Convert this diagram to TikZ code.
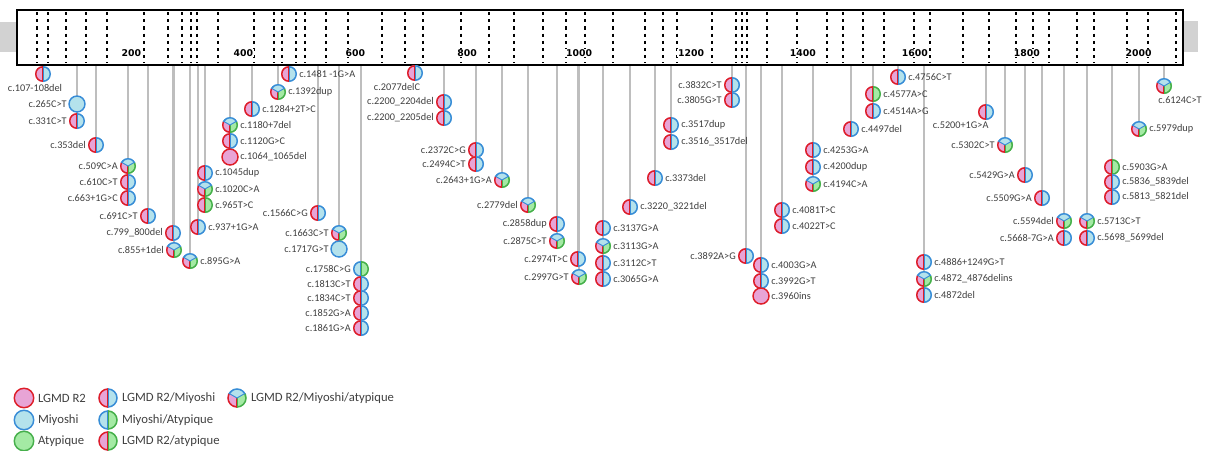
\documentclass[tikz,border=0pt]{standalone}
\usepackage{fontspec}
\setmainfont{Carlito}
\newfontfamily\rulerfont{DejaVu Sans}
\usetikzlibrary{backgrounds}

\newcommand\ppb{path picture bounding box}

\begin{document}
\begin{tikzpicture}[x=0.75pt, y=-0.75pt,
	mr/.store in=\mr, mr=6pt,
	var/.style={circle, minimum size=2*\mr, inner sep=0pt, outer sep=0pt},
	r2/.style={var, fill=r2fill, draw=r2line, line width=1.1pt},
	miy/.style={var, fill=miyfill, draw=miyline, line width=1.1pt},
	aty/.style={var, fill=atyfill, draw=atyline, line width=1.1pt},
	halves/.style 2 args={var, path picture={
		\fill[#1fill] (\ppb.south) rectangle (\ppb.north west);
		\fill[#2fill] (\ppb.south) rectangle (\ppb.north east);
		\draw[#1line, line width=2.2pt] (\ppb.south) arc[start angle=-90, end angle=-270, radius=\mr];
		\draw[#2line, line width=2.2pt] (\ppb.south) arc[start angle=-90, end angle=90, radius=\mr];
		\draw[#1line, line width=.6pt] ([xshift=-.3pt]\ppb.north) -- ([xshift=-.3pt]\ppb.south);
		\draw[#2line, line width=.6pt] ([xshift=.3pt]\ppb.north) -- ([xshift=.3pt]\ppb.south);
	}},
	r2miy/.style={halves={r2}{miy}},
	miyaty/.style={halves={miy}{aty}},
	r2aty/.style={halves={r2}{aty}},
	all3/.style={var, path picture={
		\coordinate (m) at (\ppb.center);
		\fill[r2fill] (m) -- ([shift={(150:2*\mr)}]m) -- ([shift={(210:2*\mr)}]m) -- ([shift={(270:2*\mr)}]m) -- cycle;
		\fill[atyfill] (m) -- ([shift={(270:2*\mr)}]m) -- ([shift={(330:2*\mr)}]m) -- ([shift={(30:2*\mr)}]m) -- cycle;
		\fill[miyfill] (m) -- ([shift={(30:2*\mr)}]m) -- ([shift={(90:2*\mr)}]m) -- ([shift={(150:2*\mr)}]m) -- cycle;
		\draw[r2line, line width=2.2pt] ([shift={(150:\mr)}]m) arc[start angle=150, end angle=270, radius=\mr];
		\draw[atyline, line width=2.2pt] ([shift={(270:\mr)}]m) arc[start angle=270, end angle=390, radius=\mr];
		\draw[miyline, line width=2.2pt] ([shift={(30:\mr)}]m) arc[start angle=30, end angle=150, radius=\mr];
		\draw[r2line, line width=.6pt] ([xshift=-.3pt]m) -- ([xshift=-.3pt]\ppb.south);
		\draw[atyline, line width=.6pt] ([xshift=.3pt]m) -- ([xshift=.3pt]\ppb.south);
		\draw[miyline, line width=.7pt] ([shift={(150:\mr)}]m) -- (m) -- ([shift={(30:\mr)}]m);
	}},
	every label/.append style={font=\fontsize{7.7}{9}\selectfont, text=labgray, inner sep=1pt},
	label distance=.5pt,
	ruler/.style={draw, line width=2pt, fill=white, minimum width=874.5pt, minimum height=41.25pt, inner sep=0pt},
	exon/.style={dash pattern=on 2.4pt off 3pt, line width=.9pt},
	ticklab/.style={font=\rulerfont\bfseries\fontsize{7}{8}\selectfont, fill=white, inner sep=.6pt},
	stem/.style={draw=stemgray, line width=1.1pt}
	]
	% Colours of the phenotypes
	\definecolor{r2fill}{RGB}{232,164,214}
	\definecolor{r2line}{RGB}{222,30,40}
	\definecolor{miyfill}{RGB}{180,226,236}
	\definecolor{miyline}{RGB}{56,140,215}
	\definecolor{atyfill}{RGB}{164,234,164}
	\definecolor{atyline}{RGB}{70,175,75}
	\definecolor{labgray}{RGB}{64,64,64}
	\definecolor{stemgray}{RGB}{190,190,190}
	\definecolor{sidegray}{RGB}{210,210,210}

	\useasboundingbox (0,0) rectangle (1206,450);

	% Protein bar
	\fill[sidegray] (0,22) rectangle (17,52);
	\fill[sidegray] (1183,21) rectangle (1198,52);
	\node[ruler] (prot) at (600,37.5) {};

	% Exon limits
	\foreach \x in {37,48,66,86,107,144,168,182,191,197,218,254,274,282,296,305,326,348,382,405,423,461,489,514,543,566,585,613,645,663,677,712,736,742,747,767,797,827,843,863,884,914,930,963,989,1016,1033,1049,1077,1094,1127,1148,1176}
	\draw[exon] (\x,12) -- (\x,63);

	% Scale
	\foreach \n in {200,400,...,2000}
	\node[ticklab] at ({19.5+0.5596*\n},53) {\n};

	% Variants
	\node[r2miy, label={[xshift=-6pt]below:c.107-108del}] (v107) at (43,74) {};
	\node[miy, label=left:c.265C>T] (v265) at (77,104) {};
	\node[r2miy, label=left:c.331C>T] (v331) at (77,121) {};
	\node[r2miy, label=left:c.353del] (v353) at (96,145) {};
	\node[all3, label=left:c.509C>A] (v509) at (128,166) {};
	\node[r2miy, label=left:c.610C>T] (v610) at (128,182) {};
	\node[r2miy, label=left:c.663+1G>C] (v663) at (128,198) {};
	\node[r2miy, label=left:c.691C>T] (v691) at (148,216) {};
	\node[r2miy, label=left:c.799\_800del] (v799) at (173,233) {};
	\node[all3, label=left:c.855+1del] (v855) at (174,250) {};
	\node[all3, label=right:c.895G>A] (v895) at (190,261) {};
	\node[r2miy, label=right:c.937+1G>A] (v937) at (198,227) {};
	\node[r2miy, label=right:c.1045dup] (v1045) at (205,173) {};
	\node[all3, label=right:c.1020C>A] (v1020) at (205,189) {};
	\node[r2aty, label=right:c.965T>C] (v965) at (205,205) {};
	\node[all3, label=right:c.1180+7del] (v1180) at (230,125) {};
	\node[r2miy, label=right:c.1120G>C] (v1120) at (230,141) {};
	\node[r2, label=right:c.1064\_1065del] (v1064) at (230,157) {};
	\node[r2miy, label=right:c.1284+2T>C] (v1284) at (252,109) {};
	\node[all3, label=right:c.1392dup] (v1392) at (278,92) {};
	\node[r2miy, label=right:c.1481 -1G>A] (v1481) at (289,74) {};
	\node[r2miy, label=left:c.1566C>G] (v1566) at (318,213) {};
	\node[all3, label=left:c.1663C>T] (v1663) at (339,233) {};
	\node[miy, label=left:c.1717G>T] (v1717) at (339,249) {};
	\node[miyaty, label=left:c.1758C>G] (v1758) at (361,269) {};
	\node[r2miy, label=left:c.1813C>T] (v1813) at (361,284) {};
	\node[r2miy, label=left:c.1834C>T] (v1834) at (361,298) {};
	\node[r2miy, label=left:c.1852G>A] (v1852) at (361,313) {};
	\node[r2miy, label=left:c.1861G>A] (v1861) at (361,328) {};
	\node[r2miy, label={[xshift=-13.5pt]below:c.2077delC}] (v2077) at (415,73) {};
	\node[r2miy, label=left:c.2200\_2204del] (v2204) at (444,102) {};
	\node[r2miy, label=left:c.2200\_2205del] (v2205) at (444,118) {};
	\node[r2miy, label=left:c.2372C>G] (v2372) at (476,150) {};
	\node[r2miy, label=left:c.2494C>T] (v2494) at (476,164) {};
	\node[all3, label=left:c.2643+1G>A] (v2643) at (502,180) {};
	\node[all3, label=left:c.2779del] (v2779) at (528,205) {};
	\node[r2miy, label=left:c.2858dup] (v2858) at (557,224) {};
	\node[all3, label=left:c.2875C>T] (v2875) at (557,241) {};
	\node[r2miy, label=left:c.2974T>C] (v2974) at (578,259) {};
	\node[all3, label=left:c.2997G>T] (v2997) at (579,277) {};
	\node[r2miy, label=right:c.3137G>A] (v3137) at (603,228) {};
	\node[all3, label=right:c.3113G>A] (v3113) at (603,246) {};
	\node[r2miy, label=right:c.3112C>T] (v3112) at (603,263) {};
	\node[r2miy, label=right:c.3065G>A] (v3065) at (603,279) {};
	\node[r2miy, label=right:c.3220\_3221del] (v3220) at (630,207) {};
	\node[r2miy, label=right:c.3373del] (v3373) at (655,178) {};
	\node[r2miy, label=right:c.3517dup] (v3517) at (671,125) {};
	\node[r2miy, label=right:c.3516\_3517del] (v3516) at (671,142) {};
	\node[r2miy, label=left:c.3832C>T] (v3832) at (732,85) {};
	\node[r2miy, label=left:c.3805G>T] (v3805) at (732,100) {};
	\node[r2miy, label=left:c.3892A>G] (v3892) at (746,256) {};
	\node[r2miy, label=right:c.4003G>A] (v4003) at (761,265) {};
	\node[r2miy, label=right:c.3992G>T] (v3992) at (761,281) {};
	\node[r2, label=right:c.3960ins] (v3960) at (761,296) {};
	\node[r2miy, label=right:c.4081T>C] (v4081) at (782,210) {};
	\node[r2miy, label=right:c.4022T>C] (v4022) at (782,226) {};
	\node[r2miy, label=right:c.4253G>A] (v4253) at (813,150) {};
	\node[r2miy, label=right:c.4200dup] (v4200) at (813,167) {};
	\node[all3, label=right:c.4194C>A] (v4194) at (813,184) {};
	\node[r2miy, label=right:c.4497del] (v4497) at (851,129) {};
	\node[r2aty, label=right:c.4577A>C] (v4577) at (873,94) {};
	\node[r2miy, label=right:c.4514A>G] (v4514) at (873,111) {};
	\node[r2miy, label=right:c.4756C>T] (v4756) at (898,77) {};
	\node[r2miy, label=right:c.4886+1249G>T] (v4886) at (924,262) {};
	\node[all3, label=right:c.4872\_4876delins] (v4876) at (924,279) {};
	\node[r2miy, label=right:c.4872del] (v4872) at (924,295) {};
	\node[r2miy, label={[xshift=-19pt]below:c.5200+1G>A}] (v5200) at (986,112) {};
	\node[all3, label=left:c.5302C>T] (v5302) at (1005,145) {};
	\node[r2miy, label=left:c.5429G>A] (v5429) at (1025,175) {};
	\node[r2miy, label=left:c.5509G>A] (v5509) at (1042,198) {};
	\node[all3, label=left:c.5594del] (v5594) at (1064,221) {};
	\node[r2miy, label=left:c.5668-7G>A] (v5668) at (1064,238) {};
	\node[all3, label=right:c.5713C>T] (v5713) at (1087,221) {};
	\node[r2miy, label=right:c.5698\_5699del] (v5698) at (1087,238) {};
	\node[r2aty, label=right:c.5903G>A] (v5903) at (1112,167) {};
	\node[r2miy, label=right:c.5836\_5839del] (v5836) at (1112,182) {};
	\node[r2miy, label=right:c.5813\_5821del] (v5813) at (1112,197) {};
	\node[all3, label=right:c.5979dup] (v5979) at (1139,129) {};
	\node[all3, label={[xshift=12pt]below:c.6124C>T}] (v6124) at (1164,86) {};

	% Stems from the protein to each variant
	\begin{scope}[on background layer]
		\foreach \v in {v107,v265,v331,v353,v509,v610,v663,v691,v799,v855,v895,v937,v965,v1020,v1045,v1064,v1120,v1180,v1284,v1392,v1481,v1566,v1663,v1717,v1758,v1813,v1834,v1852,v1861,v2077,v2204,v2205,v2372,v2494,v2643,v2779,v2858,v2875,v2974,v2997,v3137,v3113,v3112,v3065,v3220,v3373,v3517,v3516,v3832,v3805,v3892,v4003,v3992,v3960,v4081,v4022,v4253,v4200,v4194,v4497,v4577,v4514,v4756,v4886,v4876,v4872,v5200,v5302,v5429,v5509,v5594,v5668,v5713,v5698,v5903,v5836,v5813,v5979,v6124}
		\draw[stem] (prot.south -| \v) -- (\v);
	\end{scope}

	% Legend
	\begin{scope}[mr=7.3pt, label distance=2pt, every label/.append style={font=\fontsize{9.5}{11}\selectfont}]
		\node[r2, label=right:LGMD R2] (kr2) at (24,398) {};
		\node[miy, label=right:Miyoshi] (kmiy) at (24,420) {};
		\node[aty, label=right:Atypique] (katy) at (24,441) {};
		\node[r2miy, label=right:LGMD R2/Miyoshi] (kr2miy) at (108,398) {};
		\node[miyaty, label=right:Miyoshi/Atypique] (kmiyaty) at (108,420) {};
		\node[r2aty, label=right:LGMD R2/atypique] (kr2aty) at (108,441) {};
		\node[all3, label=right:LGMD R2/Miyoshi/atypique] (kall3) at (237,398) {};
	\end{scope}
\end{tikzpicture}
\end{document}
